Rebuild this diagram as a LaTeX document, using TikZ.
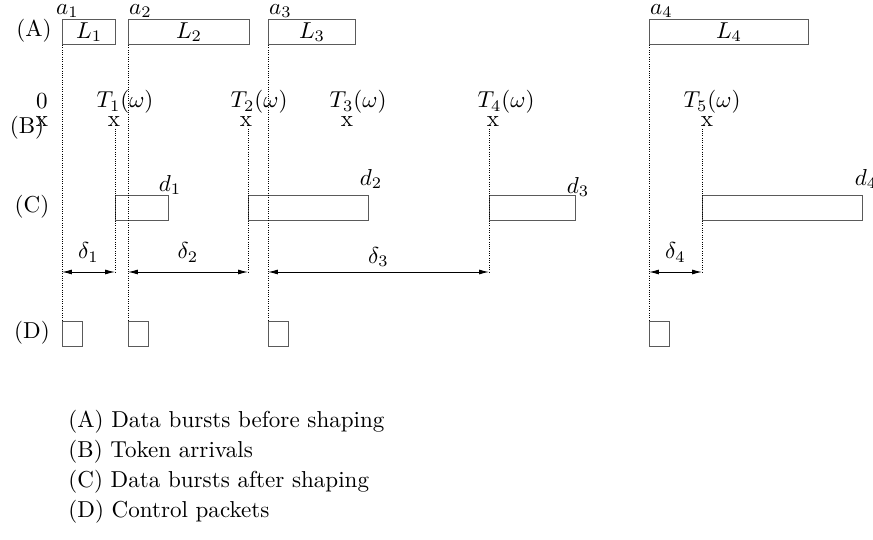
\documentclass[tikz,border=0pt]{standalone}
\usepackage{tikz}
\usetikzlibrary{arrows.meta,positioning}
\definecolor{boxgray}{HTML}{5A5A5A}

\begin{document}
\begin{tikzpicture}[
  x=0.01524cm,
  y=-0.01524cm,
  every node/.style={
    inner sep=1pt
  },
  burst/.style={
    rectangle,
    draw=boxgray,
    line width=0.5pt,
    anchor=north west,
    minimum height=0.381cm,
    inner sep=0pt
  },
  ctrl/.style={
    rectangle,
    draw=boxgray,
    line width=0.5pt,
    anchor=north west,
    minimum width=0.305cm,
    minimum height=0.381cm,
    inner sep=0pt
  },
  guide/.style={
    draw=black,
    line width=0.4pt,
    dash pattern=on 0.4pt off 0.6pt
  },
  dim/.style={
    {Latex[length=1.5mm,width=0.75mm]}-{Latex[length=1.5mm,width=0.75mm]},
    line width=0.4pt
  },
  tokenx/.style={
    inner sep=0.5pt
  },
  arrival/.style={
    anchor=south west,
    inner sep=0.3pt
  },
  legend/.style={
    anchor=west,
    inner sep=0pt
  }
]

\useasboundingbox (0,0) rectangle (873,540);

% Row labels
\node (rowA) at (34,31)  {(A)};
\node (rowB) at (27,128) {(B)};
\node (rowC) at (32,207) {(C)};
\node (rowD) at (32,333) {(D)};

% (A) data bursts before shaping
\node[burst, minimum width=0.808cm] (A1) at (62,19)  {$L_1$};
\node[burst, minimum width=1.844cm] (A2) at (128,19) {$L_2$};
\node[burst, minimum width=1.326cm] (A3) at (268,19) {$L_3$};
\node[burst, minimum width=2.423cm] (A4) at (649,19) {$L_4$};

\node[arrival, xshift=-3pt] (a1) at (A1.north west) {$a_1$};
\node[arrival] (a2) at (A2.north west) {$a_2$};
\node[arrival] (a3) at (A3.north west) {$a_3$};
\node[arrival] (a4) at (A4.north west) {$a_4$};

% (B) token arrivals
\node[tokenx] (x0) at (42,122)  {x};
\node[tokenx] (x1) at (114,122) {x};
\node[tokenx] (x2) at (246,122) {x};
\node[tokenx] (x3) at (347,122) {x};
\node[tokenx] (x4) at (493,122) {x};
\node[tokenx] (x5) at (707,122) {x};

\node (t0) at (42,101)  {0};
\node (t1) at (125,102) {$T_1(\omega)$};
\node (t2) at (259,102) {$T_2(\omega)$};
\node (t3) at (358,102) {$T_3(\omega)$};
\node (t4) at (506,102) {$T_4(\omega)$};
\node (t5) at (712,102) {$T_5(\omega)$};

% (C) data bursts after shaping
\node[burst, minimum width=0.808cm] (C1) at (115,195) {};
\node[burst, minimum width=1.829cm] (C2) at (248,195) {};
\node[burst, minimum width=1.311cm] (C3) at (489,195) {};
\node[burst, minimum width=2.438cm] (C4) at (702,195) {};

\node (d1) at (170,185) {$d_1$};
\node (d2) at (371,179) {$d_2$};
\node (d3) at (578,187) {$d_3$};
\node (d4) at (866,179) {$d_4$};

% (D) control packets
\node[ctrl] (D1) at (62,321)  {};
\node[ctrl] (D2) at (128,321) {};
\node[ctrl] (D3) at (268,321) {};
\node[ctrl] (D4) at (649,321) {};

% dotted guides
\coordinate (dimrow) at (0,272);

\draw[guide] (A1.south west) -- (D1.north west);
\draw[guide] (A2.south west) -- (D2.north west);
\draw[guide] (A3.south west) -- (D3.north west);
\draw[guide] (A4.south west) -- (D4.north west);

\draw[guide] (x1.south -| C1.west) -- (dimrow -| C1.west);
\draw[guide] (x2.south -| C2.west) -- (dimrow -| C2.west);
\draw[guide] (x4.south -| C3.west) -- (dimrow -| C3.west);
\draw[guide] (x5.south -| C4.west) -- (dimrow -| C4.west);

% shaping delays
\draw[dim] (dimrow -| A1.west) -- node[above=3pt] {$\delta_1$} (dimrow -| C1.west);
\draw[dim] (dimrow -| A2.west) -- node[above=3pt] {$\delta_2$} (dimrow -| C2.west);
\draw[dim] (dimrow -| A3.west) -- node[above=1pt] {$\delta_3$} (dimrow -| C3.west);
\draw[dim] (dimrow -| A4.west) -- node[above=3pt] {$\delta_4$} (dimrow -| C4.west);

% legend
\node[legend] (legA) at (68,422) {(A) Data bursts before shaping};
\node[legend] (legB) at (68,452) {(B) Token arrivals};
\node[legend] (legC) at (68,482) {(C) Data bursts after shaping};
\node[legend] (legD) at (68,512) {(D) Control packets};

\end{tikzpicture}
\end{document}
